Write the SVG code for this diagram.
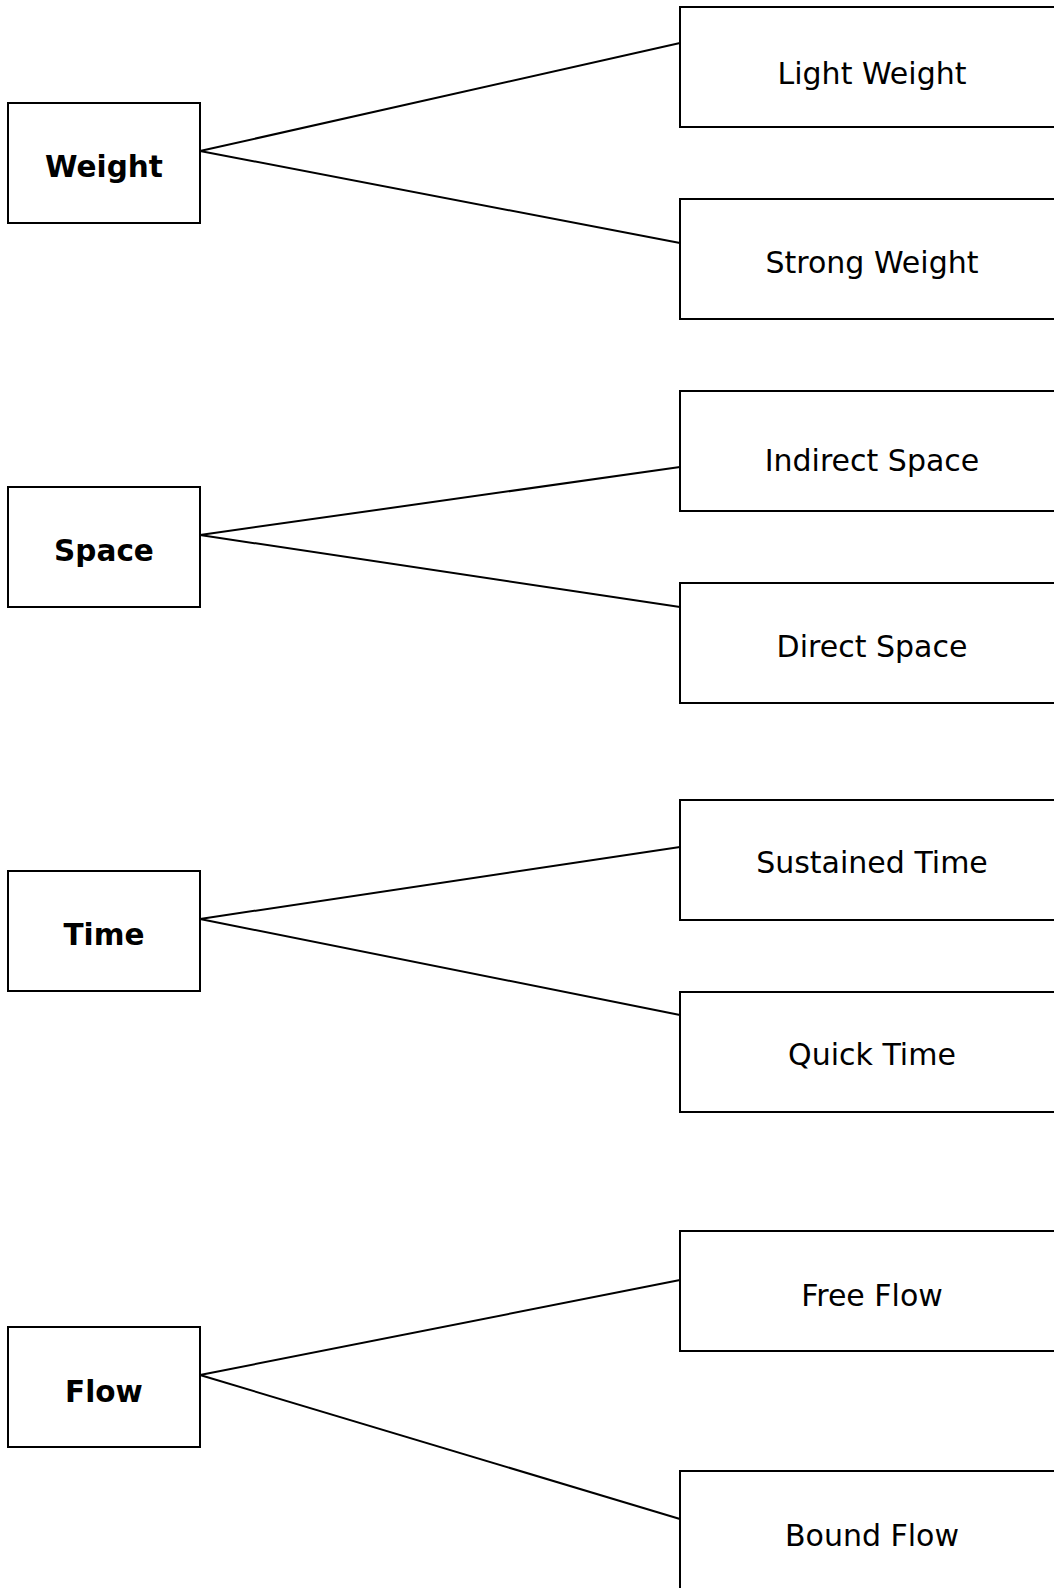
<svg xmlns="http://www.w3.org/2000/svg" width="1054" height="1588" viewBox="0 0 1054 1588">
  <style>
    .box { fill: #ffffff; stroke: #000000; stroke-width: 2; }
    .edge { fill: none; stroke: #000000; stroke-width: 2; }
    .head { font-family: "DejaVu Sans", Verdana, sans-serif; font-size: 29.5px; font-weight: bold; text-anchor: middle; fill: #000000; }
    .leaf { font-family: "DejaVu Sans", Verdana, sans-serif; font-size: 30px; text-anchor: middle; fill: #000000; }
  </style>
  <rect width="1054" height="1588" fill="#ffffff"/>

  <!-- connectors: each effort factor fans out to its two poles -->
  <g id="connectors">
    <line class="edge" x1="200" y1="151" x2="680" y2="43"/>
    <line class="edge" x1="200" y1="151" x2="680" y2="243"/>
    <line class="edge" x1="200" y1="535" x2="680" y2="467"/>
    <line class="edge" x1="200" y1="535" x2="680" y2="607"/>
    <line class="edge" x1="200" y1="919" x2="680" y2="847"/>
    <line class="edge" x1="200" y1="919" x2="680" y2="1015"/>
    <line class="edge" x1="200" y1="1375" x2="680" y2="1280"/>
    <line class="edge" x1="200" y1="1375" x2="680" y2="1519"/>
  </g>

  <!-- factors -->
  <g id="weight">
    <rect class="box" x="8" y="103" width="192" height="120"/>
    <text class="head" x="104" y="177">Weight</text>
  </g>
  <g id="space">
    <rect class="box" x="8" y="487" width="192" height="120"/>
    <text class="head" x="104" y="561">Space</text>
  </g>
  <g id="time">
    <rect class="box" x="8" y="871" width="192" height="120"/>
    <text class="head" x="104" y="945">Time</text>
  </g>
  <g id="flow">
    <rect class="box" x="8" y="1327" width="192" height="120"/>
    <text class="head" x="104" y="1402">Flow</text>
  </g>

  <!-- poles -->
  <g id="light-weight">
    <rect class="box" x="680" y="7" width="384" height="120"/>
    <text class="leaf" x="872" y="84">Light Weight</text>
  </g>
  <g id="strong-weight">
    <rect class="box" x="680" y="199" width="384" height="120"/>
    <text class="leaf" x="872" y="273">Strong Weight</text>
  </g>
  <g id="indirect-space">
    <rect class="box" x="680" y="391" width="384" height="120"/>
    <text class="leaf" x="872" y="471">Indirect Space</text>
  </g>
  <g id="direct-space">
    <rect class="box" x="680" y="583" width="384" height="120"/>
    <text class="leaf" x="872" y="657">Direct Space</text>
  </g>
  <g id="sustained-time">
    <rect class="box" x="680" y="800" width="384" height="120"/>
    <text class="leaf" x="872" y="873">Sustained Time</text>
  </g>
  <g id="quick-time">
    <rect class="box" x="680" y="992" width="384" height="120"/>
    <text class="leaf" x="872" y="1065">Quick Time</text>
  </g>
  <g id="free-flow">
    <rect class="box" x="680" y="1231" width="384" height="120"/>
    <text class="leaf" x="872" y="1306">Free Flow</text>
  </g>
  <g id="bound-flow">
    <rect class="box" x="680" y="1471" width="384" height="120"/>
    <text class="leaf" x="872" y="1546">Bound Flow</text>
  </g>
</svg>
